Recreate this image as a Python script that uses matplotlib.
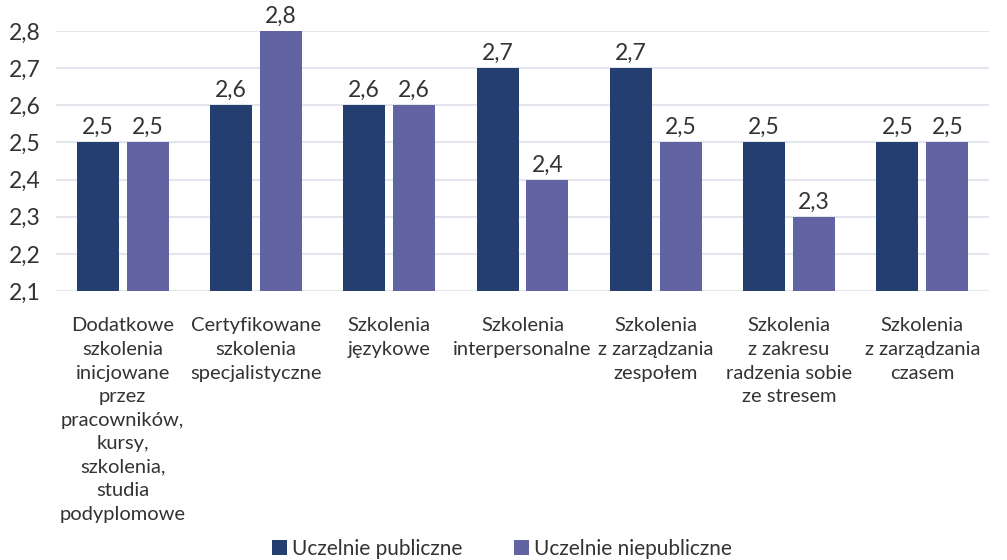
import matplotlib
matplotlib.use("Agg")
import matplotlib.pyplot as plt
import numpy as np

categories = [
    "Dodatkowe\nszkolenia\ninicjowane\nprzez\npracowników,\nkursy,\nszkolenia,\nstudia\npodyplomowe",
    "Certyfikowane\nszkolenia\nspecjalistyczne",
    "Szkolenia\njęzykowe",
    "Szkolenia\ninterpersonalne",
    "Szkolenia\nz zarządzania\nzespołem",
    "Szkolenia\nz zakresu\nradzenia sobie\nze stresem",
    "Szkolenia\nz zarządzania\nczasem",
]
public = [2.5, 2.6, 2.6, 2.7, 2.7, 2.5, 2.5]
nonpublic = [2.5, 2.8, 2.6, 2.4, 2.5, 2.3, 2.5]
series_names = ["Uczelnie publiczne", "Uczelnie niepubliczne"]
yticks = [2.1, 2.2, 2.3, 2.4, 2.5, 2.6, 2.7, 2.8]

plt.rcParams['font.family'] = ['Lato', 'DejaVu Sans']
c_pub = "#253E70"
c_np = "#6263A3"
txt = "#333333"

fig = plt.figure(figsize=(10.07, 5.6), dpi=100)
ax = fig.add_axes([56/1007, 269/560, 933/1007, 260/560])

x = np.arange(len(categories))
w = 0.315
off = w/2 + 0.03
ymin = yticks[0]
b1 = ax.bar(x - off, np.array(public) - ymin, bottom=ymin, width=w, color=c_pub, zorder=3, clip_on=False)
b2 = ax.bar(x + off, np.array(nonpublic) - ymin, bottom=ymin, width=w, color=c_np, zorder=3, clip_on=False)

for bars, vals in ((b1, public), (b2, nonpublic)):
    for r, v in zip(bars, vals):
        ax.annotate(f"{v:.1f}".replace(".", ","), (r.get_x() + r.get_width()/2, v),
                    xytext=(0, 3), textcoords="offset points", ha="center", va="bottom",
                    fontsize=16.5, color=txt, annotation_clip=False)

ax.set_xlim(-0.5, len(categories) - 0.5)
ax.set_ylim(yticks[0], yticks[-1])
ax.set_yticks(yticks)
ax.set_yticklabels([f"{t:.1f}".replace(".", ",") for t in yticks], fontsize=16.5, color=txt)
ax.set_xticks(x)
ax.set_xticklabels(categories, fontsize=14.5, color=txt, linespacing=1.47, va="top")
ax.tick_params(axis="both", length=0)
ax.tick_params(axis="x", pad=19)
ax.tick_params(axis="y", pad=11)
ax.grid(axis="y", color="#E3E6EC", linewidth=1.5, zorder=0)
for s in ax.spines.values():
    s.set_visible(False)

leg = fig.legend([b1, b2], series_names, loc="center", bbox_to_anchor=(502/1007, 1 - 549/560),
                 ncol=2, frameon=False, fontsize=15, handlelength=0.7, handleheight=0.7,
                 handletextpad=0.25, columnspacing=2.5)
for t in leg.get_texts():
    t.set_color(txt)

fig.savefig("out.png", dpi=100)
